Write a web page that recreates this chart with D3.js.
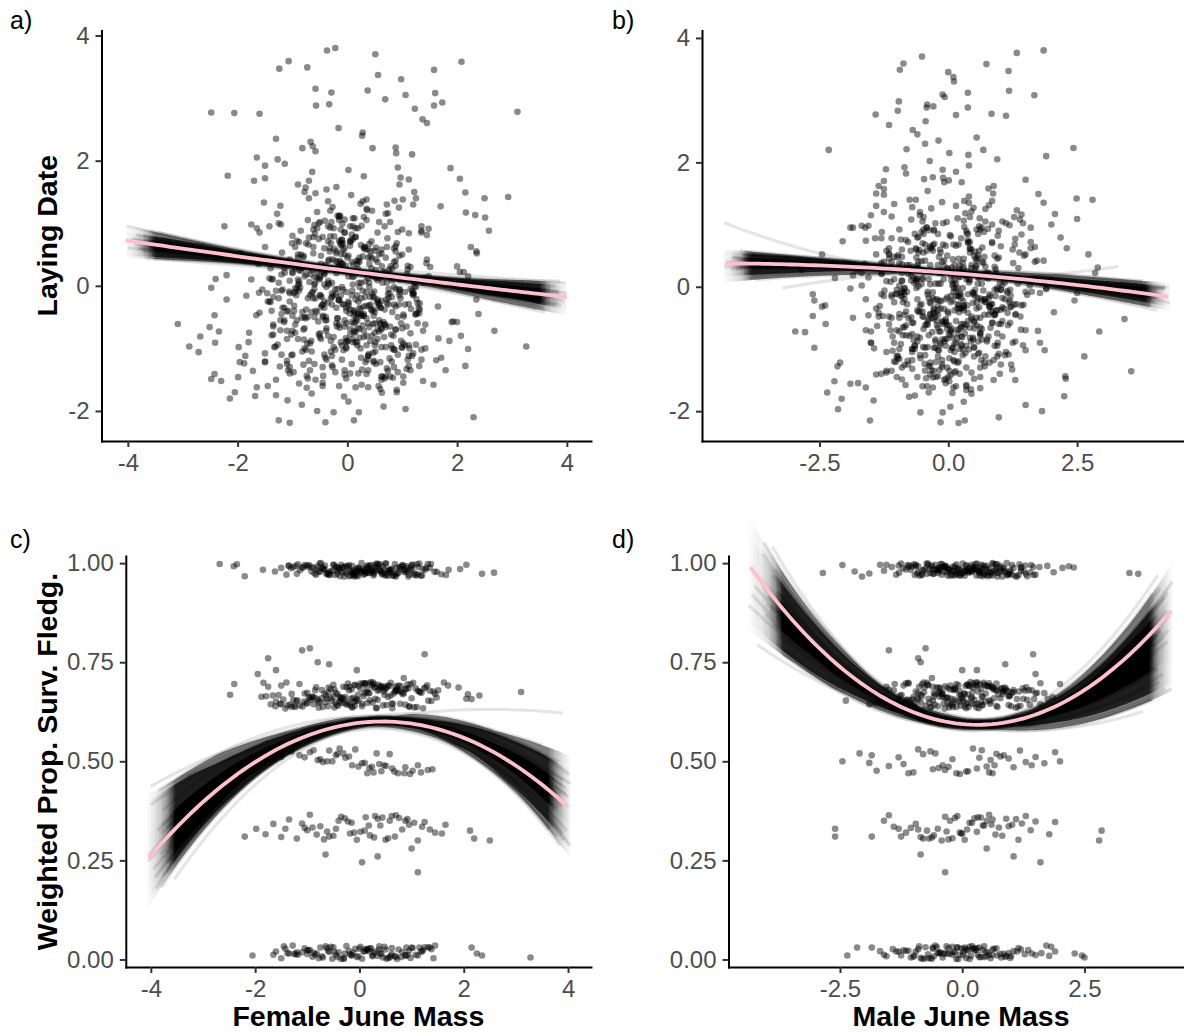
<!DOCTYPE html>
<html>
<head>
<meta charset="utf-8">
<script src="https://cdn.jsdelivr.net/npm/d3@7"></script>
<style>
  body { margin: 0; background: #fff; }
  svg { display: block; }
</style>
</head>
<body>
<svg id="fig" width="1184" height="1033"></svg>
<script>
// ---------------------------------------------------------------
// Nest records, grouped by the weighted proportion of surviving
// fledglings. Each group holds female June mass, male June mass,
// standardised laying date and the plotted (jittered) survival value.
// ---------------------------------------------------------------
const femSurv100 = [
-0.42,0.31,1.12,-1.05,0.07,0.66,-0.21,1.48,-0.74,0.19,-2.68,0.88,-0.09,0.45,-1.31,0.02,1.02,-0.55,0.27,-0.88,
0.73,-0.14,1.26,-0.37,0.51,-1.62,0.11,0.95,-0.66,0.38,-0.02,2.35,-1.18,0.58,-0.29,0.81,-0.81,0.16,1.37,-0.47,
-2.41,0.42,-0.06,1.09,-0.97,0.24,0.69,-0.33,1.71,-0.59,0.04,0.92,-1.4,0.35,-0.18,1.18,-0.71,0.55,-0.25,2.05,
0.13,-0.92,0.77,-0.11,1.31,-0.51,0.28,-1.22,0.61,-0.03,0.99,-0.78,0.47,-0.35,1.57,-1.1,0.21,-0.6,0.84,-0.16,
-1.85,0.39,1.06,-0.44,0.09,0.7,-0.27,1.22,-0.83,0.33,-0.07,2.58,-1.5,0.52,-0.2,0.97,-0.63,0.18,1.44,-0.39,
0.64,-1.01,0.25,-0.13,1.15,-0.69,0.43,-1.27,0.86,0.0,-0.49,1.66,-0.31,0.57,-2.2,0.14,1.01,-0.86,0.36,-0.05,
1.28,-0.57,0.22,-1.14,0.74,-0.24,0.49,1.93,-0.76,0.1,-0.4,0.9,-1.36,0.3,-0.1,1.13,-0.67,0.62,-2.35,0.05,
0.35,-0.62,0.82,-0.15,0.55,-1.08,0.12,0.68,-0.38,1.05,-0.8,0.26,-0.02,0.94,-0.5,0.4,-1.2,0.72,-0.28,0.18,
1.2,-0.7,0.5,-0.1,0.85,-0.45,0.08,1.35,-0.92,0.3,-0.2,0.62,-1.35,0.44,0.0,0.78,-0.58,0.22,1.1,-0.33,
0.58,-0.05,0.9,-0.75,0.15,-0.42,1.0,-0.12,0.48,-0.98];
const maleSurv100 = [
0.18,-0.63,0.95,-1.12,0.4,-0.05,1.21,-0.38,0.62,-2.85,0.27,-0.81,1.46,0.09,-0.49,0.74,-1.55,0.33,-0.17,1.05,
-0.92,0.51,-0.26,1.33,-0.7,0.12,0.86,-1.35,0.44,-0.09,2.28,-0.58,0.68,-0.31,1.12,-1.02,0.21,3.42,-0.44,0.57,
-0.15,0.98,-0.76,0.36,-2.45,0.79,-0.22,1.58,-0.54,0.03,0.91,-1.21,0.48,-0.35,1.26,-0.87,0.15,0.65,-0.11,-1.68,
1.39,-0.4,0.24,-0.97,0.71,0.06,-0.6,1.74,-0.28,0.53,-1.44,0.87,-0.02,0.39,-0.83,2.05,-0.19,0.6,-1.08,0.29,
-0.52,1.17,-0.07,0.45,-2.2,0.82,-0.33,0.11,1.5,-0.73,0.37,-1.29,0.7,-0.13,1.02,-0.47,3.6,0.26,-0.9,0.55,
-0.24,1.29,-1.6,0.42,0.01,-0.66,0.93,-0.36,1.87,-1.15,0.19,-0.03,0.77,-0.5,1.09,-0.95,0.31,-1.9,0.64,-0.16,
0.83,-0.42,1.41,-0.78,0.14,2.18,-0.3,0.5,-1.25,0.96,-0.08,0.35,-0.62,1.2,-2.05,0.22,-0.45,0.72,-0.99,0.04,
-0.28,0.45,-0.7,0.85,0.05,-1.1,0.6,-0.42,0.22,1.15,-0.9,0.35,-0.15,0.72,-0.55,0.1,1.3,-0.35,0.5,-1.3,
0.92,-0.08,0.3,-0.65,0.68,-0.2,1.02,-0.48,0.15,-0.95,0.42,-0.6,0.78,0.0,-0.25,1.45,-0.82,0.28,-0.12,0.55,
-1.05,0.62,-0.38,0.2,1.2,-0.72,0.08,0.98,-0.5,0.38];
const laySurv100 = [
-0.35,0.62,-1.12,0.08,1.45,-0.58,-0.14,0.91,-1.63,0.27,-0.81,2.21,-0.29,0.44,-0.97,0.15,-0.46,1.18,-1.34,0.03,
0.76,-0.67,-0.21,3.76,-1.05,0.35,-0.39,1.62,-0.88,0.12,-1.48,0.55,-0.06,-0.73,1.02,-1.21,0.29,-0.52,2.66,-0.18,
-0.91,0.47,-1.77,0.19,-0.32,1.31,-0.62,0.02,-1.15,0.83,-0.44,1.89,-0.26,-1.41,0.38,-0.08,0.66,-0.85,-2.02,0.22,
1.08,-0.55,-0.12,0.51,-1.28,0.1,2.45,-0.71,-0.35,0.32,-0.99,1.5,-0.17,0.71,-1.58,-0.41,0.05,0.97,-0.8,-0.23,
0.41,-1.09,3.05,-0.48,0.14,-0.66,1.26,-0.02,-1.9,0.58,-0.3,0.88,-1.22,0.25,-0.6,1.73,-0.1,-0.95,0.36,-0.5,
-1.45,0.68,-0.2,1.12,-0.76,0.06,-0.38,2.02,-1.02,0.45,-0.15,-0.84,0.93,-1.6,0.17,-0.44,1.38,-0.03,-1.18,0.6,
-0.28,2.88,-0.69,0.21,-1.36,0.79,-0.09,-0.57,1.57,-0.9,0.33,-1.66,0.11,-0.33,0.73,-1.0,2.3,-0.24,0.48,-0.78,
-0.52,0.3,-1.0,0.72,-0.25,-1.35,0.15,0.95,-0.68,-0.1,0.48,-1.58,-0.35,1.25,-0.82,0.05,-0.45,0.62,-1.12,0.22,
-0.15,1.68,-0.6,-0.95,0.38,-0.3,-1.25,0.85,-0.05,-0.72,0.55,-1.45,-0.18,0.28,-0.88,1.02,-0.4,-0.02,-1.18,0.42,
0.12,-0.65,-1.7,0.68,-0.22,0.18,-0.98,0.9,-0.48,-0.12];
const survPlot100 = [
0.98,0.99,0.972,0.995,0.985,0.968,0.99,0.978,1.0,0.975,0.998,0.982,0.97,0.992,0.987,0.976,0.996,0.98,0.969,0.988,
0.974,0.993,0.983,0.967,0.999,0.979,0.986,0.971,0.994,0.981,0.989,0.973,0.997,0.977,0.966,0.991,0.984,0.975,0.998,0.97,
0.992,0.978,0.986,0.969,0.995,0.98,0.972,0.99,0.983,0.976,1.0,0.987,0.971,0.994,0.979,0.968,0.989,0.982,0.974,0.996,
0.977,0.991,0.985,0.97,0.998,0.981,0.973,0.993,0.986,0.967,0.99,0.978,0.984,0.996,0.972,0.988,0.98,0.975,0.994,0.969,
0.983,0.997,0.974,0.99,0.979,0.966,0.992,0.985,0.971,0.999,0.98,0.976,0.988,0.97,0.995,0.982,0.973,0.991,0.978,0.987,
0.968,0.994,0.981,0.975,0.999,0.986,0.972,0.99,0.977,0.984,0.996,0.97,0.989,0.98,0.967,0.993,0.983,0.974,0.998,0.979,
0.988,0.971,0.995,0.982,0.976,0.992,0.969,0.985,0.999,0.973,0.987,0.978,0.994,0.981,0.966,0.99,0.984,0.975,0.997,0.98,
0.985,0.972,0.995,0.98,0.968,0.99,0.977,0.998,0.983,0.97,0.992,0.976,0.987,0.966,0.996,0.981,0.973,0.989,0.978,0.994,
0.969,0.985,0.999,0.975,0.982,0.991,0.971,0.988,0.979,0.996,0.967,0.984,0.993,0.974,0.98,0.99,0.97,0.986,0.997,0.977,
0.983,0.969,0.992,0.978,0.988,0.973,0.995,0.981,0.975,0.99];

const femSurv067 = [
-0.85,0.42,-1.52,0.13,0.96,-0.31,1.38,-0.67,0.28,-1.14,0.71,-0.05,1.62,-0.48,0.19,-1.79,0.55,-0.22,0.88,-0.93,
0.36,-1.33,1.12,-0.12,0.63,-0.59,2.08,-0.76,0.07,-1.61,0.47,-0.38,1.24,-1.0,0.22,-0.16,0.81,-1.23,0.5,-0.02,
-2.48,0.92,-0.44,1.51,-0.8,0.3,-1.42,0.66,-0.27,1.03,-1.7,0.15,-0.55,1.3,-0.09,0.77,-1.06,0.4,2.3,-0.34,
0.58,-0.7,1.19,-1.27,0.02,-0.46,0.89,-1.88,0.33,-0.19,1.45,-0.88,0.11,-0.62,0.74,-1.38,0.45,-0.07,3.1,-0.97,
-0.24,1.08,-1.55,0.26,-0.53,0.69,-1.09,1.7,-0.36,0.17,-0.79,0.98,-1.46,0.38,-0.13,1.27,-0.64,0.05,-2.4,0.83,
0.49,-1.19,0.24,-0.41,1.16,-0.9,0.6,-0.1,1.9,-1.3,0.09,-0.73,0.79,-0.28,1.35,-1.66,0.32,-0.5,2.15,-0.15,
-1.02,0.7,-0.33,1.42,-0.6,0.2,-1.21,0.94,-0.03,0.52,-1.84,0.35,-0.45,1.1,-0.83,0.08,-1.5,0.64,-0.2,2.05,
-1.1,-0.95,-0.8,-1.75,-1.6,-0.05,1.25,-1.95,0.85,-0.58,
-0.35,0.52,-1.25,0.85,-0.08,0.25,-0.72,1.05,-0.5,0.12,-1.6,0.68,-0.18,0.4,-0.95,1.22,0.02,-0.42,0.78,-1.15,
0.3,-0.6,0.95,-0.25,0.55,-1.4,0.15,-0.85,1.32,-0.02,0.45,-1.05,0.72,-0.3,0.1,-0.65,1.15,-0.15,0.6,-1.75,
0.2,-0.48,0.88,-0.1,1.48,-0.78,0.35,-1.3,0.62,-0.22,1.0,-0.55,0.05,-1.0,0.75,-0.38,0.48,-1.5,0.28,-0.9];
const maleSurv067 = [
-0.32,0.58,-1.05,0.21,1.14,-0.6,0.02,0.83,-1.38,0.4,-0.17,1.47,-0.79,0.29,-0.48,0.95,-1.2,0.12,0.66,-0.9,
0.45,-0.25,1.28,-1.62,0.08,-0.52,0.74,-0.05,1.6,-1.0,0.33,-0.4,0.89,-1.29,0.17,-0.69,1.05,-0.12,0.52,-2.38,
-0.85,0.36,-0.2,1.36,-1.12,0.61,-0.36,0.04,1.85,-0.72,0.26,-1.5,0.78,-0.08,1.19,-0.95,0.47,-0.3,0.98,-1.78,
0.15,-0.63,1.53,-0.16,0.7,-1.33,0.39,-0.46,1.1,-0.88,0.05,-1.9,0.55,-0.22,1.42,-0.75,0.23,-1.08,0.84,-0.01,
-0.56,1.24,-1.24,0.31,-0.1,0.93,-1.45,0.49,-0.34,1.68,-0.67,0.11,-1.02,0.72,-0.27,1.31,-0.82,0.19,2.0,-0.43,
0.63,-1.15,0.28,-0.03,1.02,-0.58,0.44,-1.6,0.86,-0.19,1.5,-0.92,0.07,-0.38,0.69,-1.27,0.34,-0.7,1.75,-0.14,
-0.98,0.53,-0.29,1.16,-0.5,0.22,-1.68,0.8,-0.06,0.42,-1.1,1.33,-0.41,0.13,-0.77,0.96,-0.24,0.57,-1.4,0.01,
-1.5,-0.75,-0.85,-0.9,0.0,0.3,1.45,1.5,-0.62,0.88,
0.25,-0.45,0.7,-0.9,0.1,-0.2,1.05,-0.65,0.4,-1.15,0.58,-0.05,0.95,-0.35,0.18,-1.4,0.8,-0.55,0.32,-0.12,
1.25,-0.78,0.05,0.62,-1.0,0.28,-0.3,0.9,-0.6,0.15,-1.25,0.48,-0.15,1.12,-0.82,0.38,-0.45,0.72,-0.02,-1.55,
0.55,-0.25,1.38,-0.7,0.2,-0.95,0.85,-0.4,0.08,-1.1,0.65,-0.18,1.0,-0.58,0.3,-0.85,0.12,1.6,-0.48,0.42];
const laySurv067 = [
0.24,-0.88,1.33,-0.41,-0.07,0.79,-1.52,0.18,-0.63,1.95,-0.22,0.5,-1.19,-0.34,0.92,-0.75,0.09,-1.38,0.63,-0.15,
1.21,-0.98,-0.29,0.37,-1.71,0.04,3.58,-0.52,0.72,-0.11,-1.07,1.54,-0.46,0.2,-0.83,2.52,-0.18,-1.29,0.56,-0.6,
-0.03,0.86,-1.44,0.3,-0.7,1.1,-0.25,-1.93,0.42,-0.49,1.68,-0.9,0.13,-0.36,0.99,-1.16,-0.09,0.67,-2.1,0.27,
-0.55,1.4,-0.13,-0.94,0.48,-0.31,2.12,-1.24,0.07,-0.65,0.81,-1.56,0.34,-0.2,1.16,-0.79,0.16,-1.03,2.78,-0.4,
0.59,-1.33,-0.06,0.96,-0.57,0.22,-1.83,1.27,-0.27,0.4,-0.86,3.3,-0.12,-1.12,0.69,-0.44,1.82,-0.69,0.11,-1.47,
-0.19,0.53,-1.0,1.04,-0.37,0.01,-1.65,0.74,-0.58,2.35,-0.08,-0.92,0.31,-1.27,0.88,-0.47,0.19,-0.76,1.49,-0.23,
-1.11,0.45,2.9,-0.62,0.14,-1.4,0.98,-0.3,-0.84,0.61,-0.16,1.23,-1.6,0.26,-0.51,0.82,-1.21,0.05,-0.35,1.71,
-0.72,0.35,-1.26,0.1,-0.43,1.06,-0.94,0.52,-0.02,-1.5,
-0.8,0.42,-0.2,-1.3,0.68,-0.45,1.05,-0.95,0.12,-0.6,0.85,-1.48,-0.05,0.35,-0.75,1.5,-0.32,-1.1,0.2,-0.55,
0.6,-1.25,-0.15,0.92,-0.7,0.28,-1.62,0.5,-0.38,-0.9,1.2,-0.12,0.05,-1.05,0.75,-0.42,-1.35,0.32,-0.62,0.98,
-0.25,-0.85,0.55,-1.18,0.15,-0.5,1.38,-0.08,-0.98,0.4,-0.68,0.22,-1.4,0.8,-0.3,-0.02,-1.2,0.62,-0.48,0.1];
const survPlot067 = [
0.66,0.69,0.645,0.675,0.638,0.688,0.652,0.67,0.695,0.641,0.68,0.657,0.699,0.636,0.672,0.664,0.691,0.648,0.683,0.655,
0.693,0.643,0.678,0.66,0.634,0.686,0.669,0.65,0.697,0.639,0.676,0.662,0.684,0.646,0.7,0.658,0.674,0.637,0.689,0.653,
0.668,0.694,0.642,0.679,0.656,0.687,0.633,0.671,0.662,0.698,0.644,0.681,0.659,0.692,0.64,0.676,0.651,0.685,0.666,0.647,
0.69,0.637,0.673,0.655,0.696,0.649,0.682,0.663,0.635,0.688,0.67,0.644,0.697,0.658,0.679,0.641,0.686,0.653,0.675,0.661,
0.643,0.684,0.667,0.699,0.652,0.677,0.638,0.691,0.66,0.672,0.648,0.694,0.656,0.68,0.636,0.687,0.665,0.645,0.695,0.669,
0.682,0.654,0.692,0.64,0.674,0.663,0.698,0.65,0.686,0.637,0.671,0.659,0.69,0.646,0.678,0.666,0.634,0.693,0.657,0.681,
0.647,0.689,0.661,0.676,0.639,0.696,0.652,0.684,0.668,0.642,0.698,0.655,0.673,0.637,0.687,0.664,0.691,0.645,0.679,0.658,
0.78,0.785,0.75,0.76,0.73,0.73,0.77,0.72,0.71,0.745,
0.655,0.685,0.64,0.672,0.693,0.648,0.68,0.636,0.664,0.697,0.651,0.677,0.642,0.689,0.66,0.634,0.683,0.669,0.645,0.695,
0.658,0.674,0.638,0.687,0.662,0.699,0.647,0.679,0.653,0.69,0.641,0.671,0.684,0.657,0.694,0.649,0.676,0.637,0.666,0.688,
0.654,0.681,0.643,0.692,0.661,0.635,0.678,0.67,0.646,0.696,0.659,0.682,0.639,0.673,0.691,0.65,0.668,0.644,0.686,0.663];

const femSurv050 = [-0.62,0.15,-0.31,0.88,-1.05,0.42,-0.08,1.12,-0.75,0.27,-0.45,0.63,-1.3,0.05,0.97,-0.2,0.51,-0.88,1.31,-0.52,
0.33,-0.14,0.74,-1.65,0.19,-0.38,1.02,-0.7,0.58,-0.02,0.86,-0.95,0.38,-0.27,1.4,-1.15,0.1,0.67,-0.58,0.24,-0.8,1.18,-0.42,0.47,-1.5];
const maleSurv050 = [-2.45,0.62,-0.55,1.05,-1.3,0.12,-0.9,1.42,-0.2,0.55,-1.85,0.3,-0.65,1.68,-0.05,0.78,-1.5,0.4,-0.35,2.0,
-2.1,0.66,-1.1,0.95,-0.48,0.22,-1.75,1.3,-0.8,0.5,-0.12,1.9,-1.2,0.35,-0.6,0.85,-1.9,0.08,1.18,-0.28,0.58,-1.0,0.7,-0.4,1.5];
const laySurv050 = [0.52,-0.74,1.2,-0.33,-1.4,0.18,-0.06,0.84,-1.02,2.4,-0.5,0.31,-1.75,0.64,-0.2,1.58,-0.9,0.07,-0.44,1.0,
-1.22,0.4,-0.13,2.05,-0.68,0.25,-1.55,0.77,-0.28,-0.98,1.36,-0.04,0.58,-1.3,0.13,-0.58,0.95,-0.82,3.15,-0.37,0.46,-1.12,0.2,-0.61,1.72];
const survPlot050 = [0.5,0.47,0.52,0.485,0.51,0.475,0.53,0.49,0.505,0.472,0.515,0.482,0.525,0.495,0.468,0.512,0.488,0.528,0.478,0.5,
0.52,0.49,0.47,0.507,0.483,0.532,0.476,0.498,0.518,0.487,0.47,0.523,0.493,0.509,0.48,0.515,0.496,0.474,0.527,0.486,0.503,0.472,0.519,0.49,0.511];

const femSurv033 = [-1.42,0.35,-0.58,1.05,-0.1,0.62,-1.2,0.18,0.88,-0.82,1.35,-0.35,0.5,-1.65,0.02,0.76,-0.5,1.2,-0.95,0.28,
-0.22,1.58,-1.05,0.44,-0.68,0.95,0.1,-1.35,0.68,-0.15,1.12,-0.75,0.3,-1.8,0.82,-0.4,0.55,-1.1,1.45,-0.28,
0.2,-0.9,0.7,-0.05,1.25,-0.62,0.4,-1.5,0.92,-0.18,1.65,-0.45,0.12,2.2,-1.0,0.58,
-0.65,0.35,1.0,1.12,2.5,-2.2,2.12,-1.98,0.05];
const maleSurv033 = [-0.5,0.9,-1.25,0.2,-0.05,1.3,-0.8,0.45,-1.6,0.68,0.1,-0.35,1.15,-0.95,0.3,-0.15,0.82,-1.4,0.55,-0.62,
1.5,0.0,-1.05,0.38,-0.28,1.02,-0.72,0.62,-1.85,0.15,-0.42,0.95,-0.1,1.78,-0.9,0.5,-0.2,1.22,-1.15,0.25,
-0.58,0.75,-1.5,0.05,1.9,-0.32,0.42,-0.85,1.1,-0.02,0.6,-1.3,0.32,-0.68,1.4,-0.25,
-0.85,1.05,0.5,-0.35,2.8,-2.6,2.85,-2.6,1.6];
const laySurv033 = [0.12,-0.95,1.48,-0.3,0.66,-1.5,-0.08,0.35,-0.7,2.2,-1.18,0.04,-0.42,0.92,-1.85,0.26,-0.15,1.3,-0.62,0.47,
-1.02,3.45,-0.25,0.71,-1.35,-0.05,1.08,-0.78,0.18,-1.6,0.58,-0.38,1.75,-0.9,0.09,-0.55,0.85,-1.25,2.6,-0.18,
0.4,-0.85,1.15,-1.42,-0.02,0.62,-0.66,1.92,-1.1,0.3,-0.33,0.78,-2.15,0.15,-0.48,1.02,-0.12,-0.8,0.5,-1.28,
1.4,-0.22,0.22,-0.98,0.95];
const survPlot033 = [0.33,0.355,0.31,0.345,0.32,0.362,0.305,0.338,0.35,0.315,0.328,0.36,0.302,0.342,0.322,0.357,0.312,0.335,0.365,0.308,
0.348,0.318,0.332,0.358,0.303,0.34,0.325,0.353,0.31,0.345,0.3,0.336,0.362,0.316,0.328,0.35,0.306,0.343,0.32,0.356,
0.313,0.333,0.364,0.302,0.347,0.323,0.338,0.309,0.354,0.318,0.34,0.33,0.359,0.305,0.326,0.35,
0.265,0.26,0.28,0.22,0.3,0.31,0.325,0.33,0.245];

const femSurv000 = [-1.35,0.22,-0.7,0.95,-0.15,0.48,-1.1,0.05,0.75,-0.45,1.15,-0.9,0.3,-0.25,0.62,-1.5,0.12,0.88,-0.58,1.32,
-0.05,-0.98,0.4,-0.35,1.02,-1.22,0.18,0.68,-0.65,-0.12,0.55,-1.42,0.25,1.22,-0.82,0.02,-0.52,0.82,-1.05,0.35,
-0.2,1.08,-1.28,0.58,-0.4,0.15,0.92,-0.75,1.42,-1.6,0.42,-0.08,0.7,-0.95,0.28,-0.3,1.25,-1.18,0.1,0.6,
-0.62,0.98,-0.88,0.38,-0.18,-1.45,0.8,-0.48,0.2,1.12,-1.0,0.52,-0.28,0.9,-0.72,0.08,1.38,-1.25,0.45,-0.55,
-2.05,2.15,2.25,2.35,3.28,1.45,1.35,-1.65,1.18,-0.02,
-0.85,0.5,-0.3,1.0,-1.2,0.25,-0.6,0.72,0.0,-1.0,0.38,-0.42,1.2,-0.15,0.62,-0.78,0.15,-1.38,0.88,-0.5];
const maleSurv000 = [-0.45,0.3,-1.05,0.12,0.72,-0.2,0.48,-0.78,1.2,-0.05,-0.6,0.88,-1.35,0.2,-0.3,0.58,-0.9,1.5,0.02,-0.52,
0.38,-1.2,0.95,-0.12,0.25,-0.7,1.05,-1.55,0.45,-0.35,0.08,0.65,-0.98,1.35,-0.25,0.15,-0.82,0.52,-0.02,1.78,
-1.15,0.32,-0.55,0.8,-0.15,-1.42,0.62,0.05,-0.65,1.12,-0.38,0.22,-1.0,0.42,1.62,-0.08,-0.75,0.55,-1.68,0.18,
-0.28,0.98,-0.48,0.1,1.28,-0.88,0.35,-0.18,0.7,-1.25,0.28,-0.62,1.42,-0.1,0.5,-0.95,0.05,0.85,-0.4,1.82,
-2.35,-2.15,2.3,2.45,2.5,1.72,-1.85,-1.6,1.9,-0.58,
-0.2,0.62,-0.85,0.35,-0.45,1.0,-1.1,0.15,-0.6,0.78,-0.32,0.45,-1.3,0.02,1.15,-0.7,0.25,-0.5,0.9,-0.1];
const laySurv000 = [-0.62,0.45,-1.2,0.1,1.05,-0.38,-0.85,0.72,-0.05,-1.55,0.3,1.62,-0.48,-0.15,0.58,-1.08,0.22,-0.7,2.15,-0.28,
0.85,-1.38,-0.02,0.4,-0.92,1.28,-0.55,0.15,-1.72,0.65,-0.22,0.95,-1.15,0.05,-0.42,1.85,-0.78,0.28,-1.3,-0.1,
0.52,-0.65,1.15,-0.32,-2.18,0.78,-0.5,0.18,-1.0,2.75,-0.18,0.35,-1.45,0.62,-0.08,-0.88,1.4,-0.35,0.02,-1.22,
0.9,-0.6,0.25,-1.62,1.12,-0.25,-0.95,0.48,-0.45,1.7,-1.1,0.12,-0.3,0.68,-1.48,0.38,-0.72,1.0,-0.12,-2.0,
-1.7,-1.28,0.62,-0.22,-0.1,0.42,0.95,-1.62,2.1,-0.4,
0.35,-0.75,-0.2,0.9,-1.1,0.05,-0.5,1.3,-0.88,0.22,-1.35,0.6,-0.12,-0.62,0.15,-1.0,0.78,-0.4,-0.05,1.02];
const survPlot000 = [0.015,0.028,0.005,0.022,0.01,0.032,0.018,0.002,0.025,0.012,0.03,0.007,0.02,0.034,0.014,0.003,0.026,0.011,0.019,0.031,
0.006,0.023,0.016,0.001,0.029,0.013,0.021,0.008,0.033,0.017,0.004,0.027,0.01,0.024,0.015,0.032,0.002,0.019,0.028,0.009,
0.022,0.012,0.035,0.005,0.018,0.026,0.011,0.03,0.003,0.02,0.014,0.027,0.007,0.024,0.016,0.001,0.031,0.012,0.021,0.009,
0.029,0.004,0.017,0.025,0.013,0.033,0.006,0.019,0.028,0.01,0.023,0.002,0.015,0.03,0.008,0.02,0.026,0.014,0.005,0.032,
0.01,0.03,0.015,0.01,0.005,0.035,0.03,0.012,0.02,0.008,
0.012,0.025,0.004,0.03,0.018,0.008,0.022,0.001,0.027,0.014,0.033,0.006,0.02,0.011,0.029,0.003,0.024,0.016,0.009,0.031];

// nests with a laying date but no survival record
const femNoSurv = [-3.09,-2.88,-2.71,-2.51,-2.48,-2.06,-2.42,-2.34,-2.48,-2.3,-2.18,-1.96,2.68,2.93,1.6,1.73,1.58,-1.25,-1.05,0.21,
1.06,1.88,2.16,2.39,-0.22,0.51,-1.07,-1.24,-0.73,0.56,-0.29,0.37,0.69,1.23,-0.63,0.46,-2.24,3.26,-2.14,-1.86,
-1.72,-1.68,-0.74,-0.39,0.85,1.21,2.0,2.36,2.51,-0.35,2.33,1.79,2.2,2.07,1.86,2.0,-2.42,-1.99,
-0.55,0.18,-0.95,0.62,-0.12,1.02,-0.38,0.42,-1.15,0.85,-0.28,0.08,-0.72,0.55,-0.05,1.25,-0.88,0.3,-0.45,0.72,
-1.35,0.15,-0.18,0.95,-0.65,0.38,-1.02,0.68,-0.32,0.02,1.12,-0.78,0.25,-0.15,0.48,-0.6,0.88,-1.22,0.12,-0.42,
0.78,-0.9,0.35,-0.25,1.38,-0.68,0.05,-1.08,0.6,-0.1,
0.42,-0.65,0.1,-0.28,0.85,-1.1,0.3,-0.5,0.62,-0.05,1.15,-0.82,0.22,-0.38,0.75,-0.15,0.5,-1.25,0.05,0.95,
-0.45,0.32,-0.92,0.68,-0.1,0.18,-0.7,1.02,-0.32,0.55,-1.38,0.12,0.82,-0.55,0.38,-0.2,1.28,-0.88,0.25,-0.02,
0.6,-1.05,0.45,-0.35,0.92,-0.62,0.08,-0.18,1.1,-0.78,0.35,-0.42,0.7,-1.2,0.2,-0.08,0.52,-0.95,0.88,-0.25,
0.15,-0.6,1.2,-0.3,0.4,-1.0,0.65,-0.12,0.28,-0.72,0.98,-0.48,0.02,-1.3,0.58,-0.22,0.78,-0.85,0.45,-0.4,
1.05,-0.15,0.32,-0.68,0.12,-1.15,0.72,-0.52,0.38,-0.02,0.8,-0.9,0.22,-0.35,1.35,-0.58,0.48,-0.05,-1.45,0.62];
const maleNoSurv = [0.35,-0.4,0.6,-0.2,-1.41,0.15,-2.63,-2.78,-0.9,-2.21,-0.3,0.8,-2.97,2.49,1.67,-0.41,0.38,-1.52,0.2,-0.54,
-2.14,-0.11,2.07,0.9,1.85,-0.51,-0.87,1.17,-0.94,0.1,-0.11,0.38,-0.96,-0.98,2.43,-2.32,-1.61,0.5,-2.07,2.64,
3.55,2.25,2.27,2.93,-2.39,-2.63,2.9,2.72,2.5,1.85,-1.1,-1.2,0.4,-0.6,0.75,1.2,-1.4,-0.3,
-0.3,0.52,-0.75,0.08,-1.05,0.35,0.88,-0.48,0.22,-0.18,0.65,-0.7,1.1,-1.3,0.02,0.78,-0.5,0.42,-0.12,1.32,
-0.85,-0.28,0.45,-0.92,0.12,0.95,-0.38,0.3,-0.62,0.72,-0.05,0.58,-1.15,0.18,-0.35,1.02,-0.68,0.38,-0.15,-0.95,
0.62,-0.02,1.22,-0.45,0.15,-1.25,0.85,-0.55,0.25,-0.8,
-0.55,0.38,-0.12,0.8,-0.9,0.2,-0.35,1.1,0.05,-0.65,0.52,-1.2,0.28,-0.05,0.72,-0.48,0.95,-0.25,0.12,-1.05,
0.62,-0.3,0.42,-0.82,0.18,1.25,-0.58,0.0,-0.15,0.85,-0.72,0.32,-1.35,0.55,-0.2,0.68,-0.42,0.1,1.02,-0.95,
0.25,-0.08,0.78,-0.62,0.45,-1.1,0.15,-0.38,0.9,-0.02,-0.5,1.18,-0.28,0.35,-0.85,0.6,-0.12,0.22,-1.25,0.48,
-0.68,0.08,0.98,-0.45,0.3,-0.18,0.75,-0.92,0.4,-0.32,1.3,-0.6,0.18,-0.08,0.58,-1.0,0.25,-0.52,0.82,0.02,
-0.38,0.65,-1.15,0.12,-0.25,0.92,-0.7,0.38,-0.1,0.5,-0.88,0.2,1.08,-0.42,0.05,-0.6,0.7,-0.22,0.35,-1.4];
const layNoSurv = [-0.61,-0.97,-1.06,-0.66,2.77,2.76,-0.47,-0.73,-1.49,-1.52,1.76,-1.22,-0.72,1.42,3.08,2.93,2.88,-2.15,-2.19,-2.02,
-1.97,1.88,1.17,-0.45,3.8,3.7,3.59,3.47,3.49,3.37,3.09,3.12,2.98,2.83,2.23,2.2,0.95,-0.97,-1.8,-1.12,
-1.36,-1.76,-1.44,-0.72,-0.3,-0.12,0.31,0.52,1.09,1.35,1.13,-1.35,-1.01,-0.8,-0.88,-0.58,-1.41,-1.46,
-0.42,-0.15,0.28,-0.68,-0.9,0.12,-1.18,0.55,-0.35,-1.02,0.05,-0.58,-0.2,0.38,-1.35,-0.45,0.7,-0.82,0.22,-0.28,
-0.65,0.92,-0.52,-0.1,-1.05,0.45,-0.78,-0.38,0.6,-0.25,-0.95,0.15,-0.48,1.1,-1.22,-0.05,0.32,-0.55,-0.72,0.02,
-1.45,0.5,-0.32,-0.98,0.05,-0.15,0.7,-0.4,-0.6,0.35,
-0.3,0.25,-0.85,-0.12,0.6,-1.2,-0.45,0.15,-0.7,0.85,-0.05,-1.05,0.38,-0.55,-0.2,1.12,-0.95,0.05,-0.38,0.48,
-1.3,-0.18,0.72,-0.62,-0.02,-0.9,0.3,-1.45,0.55,-0.28,0.1,-0.75,-0.42,0.92,-1.12,0.2,-0.6,-0.08,0.65,-1.0,
-0.35,0.42,-0.8,0.08,-1.38,0.78,-0.15,-0.52,0.32,-0.68,1.05,-0.25,-0.98,0.18,-0.45,0.58,-1.25,-0.1,0.4,-0.82,
-0.58,0.02,-1.08,0.68,-0.32,-0.72,0.22,-0.15,1.35,-0.5,-0.88,0.35,-0.28,-1.5,0.5,-0.05,-0.65,0.88,-0.4,-1.15,
0.12,-0.22,0.62,-0.92,-0.48,0.28,-1.32,0.75,-0.6,-0.1,-0.78,0.45,-0.35,0.95,-1.02,-0.2,0.15,-0.55,-1.6,0.52];

// ---------------------------------------------------------------
// Posterior draws of the quadratic selection curves:
// y = intercept + slope * x + quadratic * x^2, each over its own mass range
// ---------------------------------------------------------------
// a) laying date ~ female mass
const drawIntA = [0.22,0.26,0.19,0.28,0.24,0.21,0.25,0.3,0.18,0.23,0.27,0.2,0.25,0.22,0.29,0.24,0.17,0.26,0.23,0.21,0.25,0.28,0.2,0.24,0.31,0.22,0.26,0.19,0.24,0.27,0.23,0.21,0.25,0.18,0.28,0.24,0.22,0.26,0.2,0.25,0.23,0.29,0.21,0.24,0.27,0.19,0.25,0.22,0.26,0.24];
const drawSlopeA = [-0.11,-0.14,-0.08,-0.12,-0.16,-0.1,-0.07,-0.13,-0.11,-0.09,-0.15,-0.12,-0.06,-0.1,-0.13,-0.11,-0.08,-0.14,-0.12,-0.1,-0.17,-0.09,-0.11,-0.13,-0.07,-0.12,-0.1,-0.15,-0.11,-0.09,-0.13,-0.05,-0.12,-0.1,-0.14,-0.11,-0.08,-0.12,-0.16,-0.1,-0.13,-0.09,-0.11,-0.14,-0.07,-0.12,-0.1,-0.13,-0.11,-0.09];
const drawQuadA = [0.002,-0.004,0.008,0.0,0.005,-0.008,0.003,-0.002,0.011,0.001,-0.006,0.006,-0.001,0.004,-0.01,0.002,0.007,-0.003,0.0,0.009,-0.005,0.003,-0.007,0.005,0.001,-0.002,0.012,-0.004,0.002,0.006,-0.009,0.004,0.0,-0.003,0.007,0.001,-0.006,0.003,0.009,-0.001,0.005,-0.004,0.002,0.008,-0.007,0.0,0.004,-0.002,0.006,0.001];
const drawFromA = [-3.55,-3.7,-3.45,-3.9,-3.6,-3.5,-3.75,-3.4,-3.65,-4.0,-3.55,-3.6,-3.48,-3.8,-3.62,-3.52,-3.7,-3.42,-3.58,-3.95,-3.5,-3.66,-3.56,-3.85,-3.46,-3.6,-3.72,-3.5,-3.64,-3.38,-3.78,-3.54,-3.6,-3.48,-4.02,-3.68,-3.52,-3.62,-3.44,-3.74,-3.58,-3.5,-3.88,-3.56,-3.66,-3.46,-3.6,-3.7,-3.54,-3.82];
const drawToA = [3.62,3.5,3.78,3.45,3.9,3.56,3.68,3.95,3.52,3.6,3.42,3.72,3.58,3.85,3.48,3.64,3.54,3.8,3.46,3.7,3.6,3.38,3.66,3.5,3.98,3.56,3.62,3.44,3.74,3.52,3.58,3.88,3.48,3.66,3.55,3.7,3.4,3.6,3.82,3.5,3.64,3.46,3.76,3.54,4.0,3.58,3.68,3.5,3.62,3.86];

// b) laying date ~ male mass
const drawIntB = [0.22,0.25,0.19,0.24,0.27,0.21,0.23,0.18,0.26,0.22,0.2,0.28,0.23,0.21,0.25,0.19,0.24,0.22,0.26,0.2,0.23,0.29,0.21,0.24,0.17,0.22,0.25,0.2,0.27,0.23,0.21,0.24,0.19,0.26,0.22,0.23,0.2,0.25,0.28,0.21,0.24,0.22,0.18,0.26,0.23,0.21,0.25,0.2,0.24,0.22,0.2,0.25,0.22];
const drawSlopeB = [-0.06,-0.09,-0.04,-0.07,-0.1,-0.05,-0.08,-0.03,-0.065,-0.055,-0.085,-0.045,-0.07,-0.06,-0.095,-0.035,-0.075,-0.05,-0.08,-0.065,-0.04,-0.07,-0.11,-0.055,-0.06,-0.085,-0.045,-0.07,-0.02,-0.065,-0.075,-0.05,-0.09,-0.06,-0.04,-0.08,-0.055,-0.07,-0.03,-0.065,-0.1,-0.05,-0.075,-0.06,-0.085,-0.045,-0.07,-0.055,-0.065,-0.06,-0.06,0.02,-0.1];
const drawQuadB = [-0.006,-0.002,-0.011,-0.004,-0.009,0.0,-0.007,-0.013,-0.005,-0.003,-0.01,-0.006,0.002,-0.008,-0.004,-0.012,-0.006,-0.001,-0.009,-0.005,-0.015,-0.003,-0.007,-0.01,-0.004,-0.006,-0.002,-0.011,-0.008,-0.005,-0.003,-0.009,-0.006,-0.014,-0.004,-0.007,0.001,-0.008,-0.005,-0.01,-0.006,-0.003,-0.012,-0.007,-0.004,-0.009,-0.002,-0.006,-0.008,-0.005,0.03,-0.02,-0.012];
const drawFromB = [-3.9,-4.05,-3.8,-4.2,-3.95,-3.85,-4.1,-3.75,-3.98,-4.3,-3.88,-3.92,-3.82,-4.15,-3.96,-3.86,-4.02,-3.78,-3.94,-4.25,-3.84,-4.0,-3.9,-4.12,-3.8,-3.93,-4.06,-3.83,-3.97,-3.72,-4.18,-3.87,-3.95,-3.81,-4.35,-4.0,-3.86,-3.96,-3.77,-4.08,-3.91,-3.84,-4.22,-3.89,-3.99,-3.79,-3.94,-4.04,-3.88,-4.14,-4.35,-3.22,-3.7];
const drawToB = [3.85,3.98,3.74,4.12,3.9,4.22,3.8,3.95,4.05,3.7,3.93,3.83,4.18,3.88,3.77,4.0,3.92,4.28,3.86,3.96,3.79,4.08,3.9,3.82,4.15,3.94,3.87,4.02,3.76,3.99,4.1,3.84,3.91,4.3,3.8,3.97,3.89,4.06,3.78,3.95,3.86,4.2,3.93,3.81,4.04,3.9,3.75,4.14,3.88,4.01,3.3,4.2,4.05];

// c) survival ~ female mass
const drawIntC = [0.6,0.59,0.605,0.595,0.61,0.585,0.598,0.603,0.592,0.607,0.588,0.6,0.596,0.612,0.583,0.602,0.594,0.606,0.59,0.599,0.604,0.587,0.601,0.609,0.593,0.597,0.614,0.589,0.603,0.595,0.6,0.586,0.608,0.598,0.591,0.605,0.594,0.602,0.58,0.599,0.606,0.592,0.601,0.596,0.61,0.588,0.604,0.597,0.593,0.6,0.6,0.605,0.59];
const drawSlopeC = [0.015,0.022,0.008,0.018,0.01,0.026,0.013,0.005,0.02,0.016,0.03,0.011,0.017,0.002,0.024,0.014,0.009,0.019,0.028,0.012,0.016,0.006,0.021,0.013,0.033,0.015,0.01,0.023,0.017,0.004,0.019,0.014,0.027,0.011,0.016,0.02,0.008,0.025,0.015,0.012,0.018,0.003,0.022,0.014,0.017,0.029,0.01,0.016,0.021,0.013,0.025,0.01,0.02];
const drawQuadC = [-0.017,-0.021,-0.013,-0.019,-0.015,-0.023,-0.016,-0.011,-0.02,-0.018,-0.014,-0.024,-0.017,-0.012,-0.019,-0.016,-0.022,-0.015,-0.018,-0.01,-0.02,-0.017,-0.013,-0.025,-0.016,-0.019,-0.014,-0.021,-0.017,-0.012,-0.018,-0.02,-0.015,-0.023,-0.016,-0.019,-0.013,-0.017,-0.022,-0.015,-0.018,-0.011,-0.02,-0.016,-0.024,-0.014,-0.018,-0.017,-0.021,-0.015,-0.005,-0.008,-0.023];
const drawFromC = [-3.6,-3.75,-3.5,-3.95,-3.65,-3.55,-3.8,-3.45,-3.7,-4.05,-3.58,-3.62,-3.52,-3.85,-3.66,-3.56,-3.72,-3.48,-3.64,-4.0,-3.54,-3.7,-3.6,-3.9,-3.5,-3.63,-3.77,-3.53,-3.68,-3.42,-3.82,-3.57,-3.65,-3.5,-4.06,-3.71,-3.56,-3.66,-3.46,-3.78,-3.61,-3.54,-3.92,-3.59,-3.69,-3.49,-3.64,-3.74,-3.58,-3.87,-3.3,-4.0,-3.8];
const drawToC = [3.74,3.62,3.88,3.56,4.0,3.68,3.8,4.05,3.64,3.72,3.5,3.84,3.7,3.95,3.6,3.76,3.66,3.9,3.58,3.82,3.71,3.55,3.78,3.63,4.02,3.69,3.75,3.59,3.86,3.65,3.73,3.98,3.61,3.79,3.67,3.83,3.52,3.7,3.92,3.64,3.77,3.57,3.87,3.66,4.04,3.72,3.8,3.6,3.74,3.96,3.9,3.5,3.9];

// d) survival ~ male mass
const drawIntD = [0.595,0.585,0.6,0.59,0.605,0.582,0.597,0.602,0.588,0.608,0.586,0.596,0.592,0.61,0.58,0.599,0.591,0.604,0.587,0.594,0.601,0.584,0.598,0.606,0.589,0.593,0.612,0.583,0.6,0.592,0.596,0.581,0.605,0.594,0.588,0.603,0.59,0.599,0.578,0.595,0.604,0.589,0.598,0.593,0.607,0.585,0.601,0.594,0.59,0.597,0.59,0.6,0.59,0.6];
const drawSlopeD = [-0.012,-0.004,-0.02,-0.009,-0.016,-0.001,-0.013,-0.024,-0.007,-0.011,-0.018,-0.005,-0.014,-0.028,-0.008,-0.012,-0.019,-0.003,-0.015,-0.01,-0.022,-0.006,-0.013,-0.017,0.002,-0.011,-0.02,-0.008,-0.014,-0.026,-0.009,-0.012,-0.016,-0.002,-0.013,-0.021,-0.007,-0.015,-0.01,-0.018,-0.005,-0.012,-0.023,-0.009,-0.014,-0.003,-0.017,-0.011,-0.019,-0.008,-0.02,-0.015,0.0,-0.025];
const drawQuadD = [0.016,0.021,0.012,0.019,0.015,0.023,0.017,0.01,0.02,0.016,0.014,0.022,0.017,0.011,0.019,0.015,0.025,0.013,0.018,0.009,0.02,0.016,0.012,0.023,0.015,0.019,0.013,0.021,0.017,0.011,0.018,0.02,0.014,0.024,0.015,0.019,0.012,0.017,0.022,0.014,0.018,0.01,0.02,0.016,0.022,0.013,0.018,0.017,0.019,0.015,0.008,0.012,0.019,0.01];
const drawFromD = [-3.75,-3.9,-3.6,-4.1,-3.8,-3.7,-3.95,-3.55,-3.85,-4.25,-3.72,-3.78,-3.66,-4.0,-3.82,-3.7,-3.88,-3.62,-3.79,-4.2,-3.68,-3.86,-3.75,-4.05,-3.64,-3.77,-3.92,-3.67,-3.83,-3.5,-3.98,-3.71,-3.8,-3.65,-4.3,-3.87,-3.7,-3.81,-3.6,-3.93,-3.76,-3.69,-4.08,-3.74,-3.84,-3.63,-3.79,-3.9,-3.72,-4.02,-3.2,-4.36,-3.8,-3.5];
const drawToD = [3.95,3.82,4.1,3.76,4.2,3.88,4.0,4.28,3.85,3.92,3.7,4.05,3.9,4.15,3.8,3.97,3.86,4.12,3.78,4.02,3.91,3.74,3.98,3.84,4.25,3.89,3.94,3.79,4.08,3.87,3.93,4.18,3.81,4.0,3.87,4.04,3.65,3.9,4.14,3.83,3.96,3.77,4.06,3.86,4.3,3.92,3.99,3.8,3.94,4.22,3.7,4.0,4.2,3.9];

// Posterior-mean curves [intercept, slope, quadratic] and their mass ranges
const meanFitA = [0.24, -0.1125, 0.0019];   const meanRangeA = [-4.04, 4.0];
const meanFitB = [0.225, -0.063, -0.0064];  const meanRangeB = [-4.33, 4.27];
const meanFitC = [0.597, 0.0153, -0.0171];  const meanRangeC = [-4.04, 4.0];
const meanFitD = [0.594, -0.0117, 0.0184];  const meanRangeD = [-4.33, 4.27];

// Axis ticks
const femTicks = [-4, -2, 0, 2, 4];      const femTickLabels = ["-4", "-2", "0", "2", "4"];
const maleTicks = [-2.5, 0, 2.5];        const maleTickLabels = ["-2.5", "0.0", "2.5"];
const dateTicks = [-2, 0, 2, 4];         const dateTickLabels = ["-2", "0", "2", "4"];
const survTicks = [0, 0.25, 0.5, 0.75, 1]; const survTickLabels = ["0.00", "0.25", "0.50", "0.75", "1.00"];

// ---------------------------------------------------------------
const FONT = "'Liberation Sans', Arial, Helvetica, sans-serif";
const svg = d3.select("#fig");
svg.append("rect").attr("width", 1184).attr("height", 1033).attr("fill", "#fff");
const defs = svg.append("defs");

const groups = [
  [femSurv100, maleSurv100, laySurv100, survPlot100],
  [femSurv067, maleSurv067, laySurv067, survPlot067],
  [femSurv050, maleSurv050, laySurv050, survPlot050],
  [femSurv033, maleSurv033, laySurv033, survPlot033],
  [femSurv000, maleSurv000, laySurv000, survPlot000],
  [femNoSurv, maleNoSurv, layNoSurv, null]
];
const nests = [];
groups.forEach(([f, m, l, s]) => {
  const n = Math.min(f.length, m.length, l.length, s ? s.length : Infinity);
  for (let i = 0; i < n; i++) nests.push({ fem: f[i], male: m[i], lay: l[i], surv: s ? s[i] : null });
});

const quadratic = (c, v) => c[0] + c[1] * v + c[2] * v * v;
function buildDraws(ints, slopes, quads, from, to) {
  const n = Math.min(ints.length, slopes.length, quads.length, from.length, to.length);
  return d3.range(n).map(i => ({ c: [ints[i], slopes[i], quads[i]], x0: from[i], x1: to[i] }));
}

const panels = [
  { tag: "a)", tagX: 10, tagY: 29, xr: [101.5, 591], yr: [441, 30.5], xDom: [-4.48, 4.44], yDom: [-2.48, 4.08],
    xTicks: femTicks, xLabels: femTickLabels, yTicks: dateTicks, yLabels: dateTickLabels, px: "fem", py: "lay",
    draws: buildDraws(drawIntA, drawSlopeA, drawQuadA, drawFromA, drawToA), fit: meanFitA, fitRange: meanRangeA,
    yTitle: "Laying Date" },
  { tag: "b)", tagX: 612, tagY: 29, xr: [702, 1192], yr: [441, 30.5], xDom: [-4.78, 4.73], yDom: [-2.48, 4.12],
    xTicks: maleTicks, xLabels: maleTickLabels, yTicks: dateTicks, yLabels: dateTickLabels, px: "male", py: "lay",
    draws: buildDraws(drawIntB, drawSlopeB, drawQuadB, drawFromB, drawToB), fit: meanFitB, fitRange: meanRangeB },
  { tag: "c)", tagX: 10, tagY: 548, xr: [125.8, 591], yr: [967, 556], xDom: [-4.48, 4.44], yDom: [-0.019, 1.018],
    xTicks: femTicks, xLabels: femTickLabels, yTicks: survTicks, yLabels: survTickLabels, px: "fem", py: "surv",
    draws: buildDraws(drawIntC, drawSlopeC, drawQuadC, drawFromC, drawToC), fit: meanFitC, fitRange: meanRangeC,
    yTitle: "Weighted Prop. Surv. Fledg.", xTitle: "Female June Mass" },
  { tag: "d)", tagX: 612, tagY: 548, xr: [728.5, 1193.5], yr: [967, 556], xDom: [-4.78, 4.73], yDom: [-0.019, 1.018],
    xTicks: maleTicks, xLabels: maleTickLabels, yTicks: survTicks, yLabels: survTickLabels, px: "male", py: "surv",
    draws: buildDraws(drawIntD, drawSlopeD, drawQuadD, drawFromD, drawToD), fit: meanFitD, fitRange: meanRangeD,
    xTitle: "Male June Mass" }
];

panels.forEach((p, idx) => {
  const x = d3.scaleLinear().domain(p.xDom).range(p.xr);
  const y = d3.scaleLinear().domain(p.yDom).range(p.yr);
  const g = svg.append("g");

  // observed nests
  g.append("g").selectAll("circle")
    .data(nests.filter(d => d[p.py] != null))
    .join("circle")
    .attr("cx", d => x(d[p.px]))
    .attr("cy", d => y(d[p.py]))
    .attr("r", 3.3)
    .attr("fill", "#000")
    .attr("fill-opacity", 0.46);

  // density of the posterior draws: nested quantile envelopes of all draws,
  // faded by the share of draws whose mass range covers each value
  const draws = p.draws;
  const lo = d3.min(draws, d => d.x0), hi = d3.max(draws, d => d.x1);
  const N = 300;
  const grid = d3.range(N + 1).map(i => {
    const v = lo + (hi - lo) * i / N;
    const vals = draws.map(d => quadratic(d.c, v)).sort(d3.ascending);
    const share = draws.filter(d => v >= d.x0 && v <= d.x1).length / draws.length;
    return { v, vals, share };
  });
  const grad = defs.append("linearGradient").attr("id", `cover${idx}`)
    .attr("gradientUnits", "userSpaceOnUse")
    .attr("x1", x(lo)).attr("x2", x(hi)).attr("y1", 0).attr("y2", 0);
  grid.forEach((d, i) => {
    grad.append("stop").attr("offset", i / N)
      .attr("stop-color", "#fff")
      .attr("stop-opacity", Math.min(1, d.share / 0.8));
  });
  defs.append("mask").attr("id", `coverMask${idx}`)
    .attr("maskUnits", "userSpaceOnUse").attr("x", 0).attr("y", 0).attr("width", 1184).attr("height", 1033)
    .append("rect").attr("width", 1184).attr("height", 1033).attr("fill", `url(#cover${idx})`);
  const band = g.append("g").attr("mask", `url(#coverMask${idx})`);
  [[0.02, 0.98, 0.5], [0.08, 0.92, 0.75], [0.2, 0.8, 1.0]].forEach(([ql, qh, op]) => {
    const area = d3.area()
      .x(d => x(d.v))
      .y0(d => y(d3.quantileSorted(d.vals, ql)))
      .y1(d => y(d3.quantileSorted(d.vals, qh)))
      .curve(d3.curveMonotoneX);
    band.append("path").datum(grid).attr("d", area).attr("fill", "#000").attr("fill-opacity", op);
  });

  // individual posterior draws
  const line = d3.line().x(d => x(d[0])).y(d => y(d[1]));
  g.append("g").selectAll("path")
    .data(draws)
    .join("path")
    .attr("d", d => line(d3.range(41).map(i => {
      const v = d.x0 + (d.x1 - d.x0) * i / 40;
      return [v, quadratic(d.c, v)];
    })))
    .attr("fill", "none")
    .attr("stroke", "#000")
    .attr("stroke-opacity", 0.1)
    .attr("stroke-width", 3.2);

  // posterior mean curve
  g.append("path")
    .attr("d", line(d3.range(81).map(i => {
      const v = p.fitRange[0] + (p.fitRange[1] - p.fitRange[0]) * i / 80;
      return [v, quadratic(p.fit, v)];
    })))
    .attr("fill", "none")
    .attr("stroke", "pink")
    .attr("stroke-width", 3.8);

  // axes
  const xAxis = g.append("g")
    .attr("transform", `translate(0,${p.yr[0]})`)
    .call(d3.axisBottom(x).tickValues(p.xTicks).tickFormat((d, i) => p.xLabels[i])
      .tickSize(6).tickSizeOuter(0).tickPadding(7));
  const yAxis = g.append("g")
    .attr("transform", `translate(${p.xr[0]},0)`)
    .call(d3.axisLeft(y).tickValues(p.yTicks).tickFormat((d, i) => p.yLabels[i])
      .tickSize(6).tickSizeOuter(0).tickPadding(6));
  [xAxis, yAxis].forEach(a => {
    a.attr("font-family", FONT).attr("font-size", 24);
    a.select(".domain").attr("stroke", "#000").attr("stroke-width", 2).attr("stroke-linecap", "square");
    a.selectAll(".tick line").attr("stroke", "#333").attr("stroke-width", 2);
    a.selectAll(".tick text").attr("fill", "#4d4d4d");
  });

  if (p.yTitle) {
    svg.append("text")
      .attr("transform", `translate(57,${(p.yr[0] + p.yr[1]) / 2}) rotate(-90)`)
      .attr("text-anchor", "middle")
      .attr("font-family", FONT).attr("font-weight", "bold").attr("font-size", 28.5)
      .attr("fill", "#000")
      .text(p.yTitle);
  }
  if (p.xTitle) {
    svg.append("text")
      .attr("x", (p.xr[0] + p.xr[1]) / 2).attr("y", 1026)
      .attr("text-anchor", "middle")
      .attr("font-family", FONT).attr("font-weight", "bold").attr("font-size", 28.5)
      .attr("fill", "#000")
      .text(p.xTitle);
  }
  svg.append("text")
    .attr("x", p.tagX).attr("y", p.tagY)
    .attr("font-family", FONT).attr("font-size", 25)
    .attr("fill", "#000")
    .text(p.tag);
});
</script>
</body>
</html>
